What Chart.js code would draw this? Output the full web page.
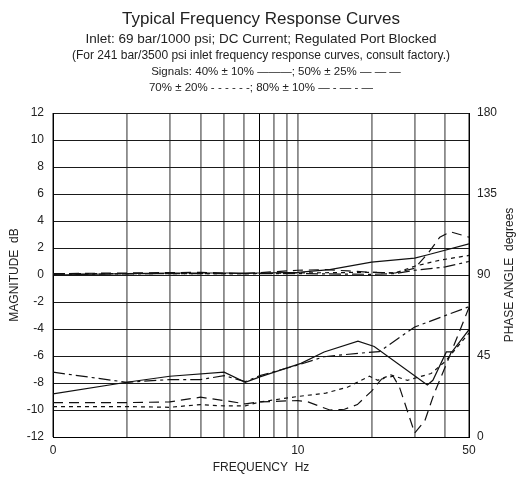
<!DOCTYPE html>
<html>
<head>
<meta charset="utf-8">
<script src="https://cdn.jsdelivr.net/npm/chart.js@4"></script>
<style>
  html, body { margin: 0; padding: 0; background: #fff; }
  canvas { display: block; }
</style>
</head>
<body>
<canvas id="freqChart" width="522" height="477"></canvas>
<script>
// Header text
const headerLines = [
    'Typical Frequency Response Curves',
    'Inlet: 69 bar/1000 psi; DC Current; Regulated Port Blocked',
    '(For 241 bar/3500 psi inlet frequency response curves, consult factory.)',
    'Signals: 40% \u00b1 10% \u2014\u2014\u2014; 50% \u00b1 25% \u2014 \u2014 \u2014',
    '70% \u00b1 20% - - - - - -; 80% \u00b1 10% \u2014 - \u2014 - \u2014'
];
const phaseTitle = 'PHASE ANGLE  degrees';

// Axis ticks
const xGridValues = [1, 2, 3, 4, 5, 6, 7, 8, 9, 10, 20, 30, 40, 50];
const xLabelValues = [1, 10, 50];
const xLabelTexts = ['0', '10', '50'];

// Magnitude curves (dB, left axis)
const mag40Freq = [1, 2, 3, 5, 7, 10, 13.5, 20, 30, 34, 50];
const mag40Db = [0.0, 0.1, 0.15, 0.15, 0.15, 0.2, 0.4, 0.95, 1.25, 1.5, 2.3];

const mag50Freq = [1, 2, 4, 6, 10, 13, 16, 20, 25, 30, 34, 38, 42, 50];
const mag50Db = [0.1, 0.15, 0.2, 0.1, 0.35, 0.4, 0.3, 0.2, 0.15, 0.5, 1.6, 2.8, 3.2, 2.8];

const mag70Freq = [1, 3, 6, 10, 20, 25, 30, 38, 50];
const mag70Db = [0.1, 0.1, 0.1, 0.15, 0.2, 0.15, 0.65, 1.1, 1.45];

const mag80Freq = [1, 3, 6, 10, 20, 25, 30, 40, 50];
const mag80Db = [0.05, 0.1, 0.1, 0.1, 0.05, 0.1, 0.35, 0.6, 1.0];

// Phase curves (degrees, right axis)
const ph40Freq = [1, 2, 3, 5, 6.1, 7, 10.3, 12.8, 17.6, 20.5, 33.8, 35.6, 40.4, 42.6, 50];
const ph40Deg = [24, 30.4, 33.75, 36, 30.4, 33.4, 40.9, 47.25, 53.25, 50.25, 28.9, 31.5, 47.25, 47.25, 59.6];

const ph50Freq = [1, 2, 3, 4, 5, 6.1, 7, 10, 11, 13.5, 15.5, 17.5, 20, 22, 24.5, 26, 30, 33, 36, 40, 45, 50];
const ph50Deg = [19.1, 19.1, 19.5, 22.1, 20.25, 18.4, 19.5, 20.25, 19.5, 15, 15.4, 18, 25.5, 32.25, 33.75, 27.75, 2.25, 9, 24, 39, 56.25, 72];

const ph70Freq = [1, 2, 3, 4, 5, 6.1, 7, 10, 13, 16, 19.6, 21.2, 24, 28, 35, 40, 50];
const ph70Deg = [16.9, 16.9, 16.5, 18, 17.25, 17.25, 19.5, 22.5, 24.4, 27.75, 33.75, 31.5, 34.5, 31.5, 35.25, 42, 57.75];

const ph80Freq = [1, 2, 3, 4, 5, 6.1, 7, 10.3, 12.8, 17.6, 21.5, 30, 50];
const ph80Deg = [36, 30.4, 31.9, 31.9, 34.1, 30.75, 34.1, 40.5, 44.6, 46.5, 47.4, 61.1, 72.4];

const FONT = '"Liberation Sans", Arial, sans-serif';

function pairs(xs, ys) {
    return xs.map((x, i) => ({ x: x, y: ys[i] }));
}

function curve(xs, ys, dash, axis) {
    return {
        data: pairs(xs, ys),
        yAxisID: axis,
        borderColor: '#111',
        borderWidth: 1.2,
        borderDash: dash,
        pointRadius: 0,
        tension: 0,
        fill: false
    };
}

const SOLID = [];
const LONG_DASH = [10, 6];
const SHORT_DASH = [4, 4];
const DASH_DOT = [12, 4, 3, 4];

// Draws the header lines and the right axis title (reads bottom to top)
const headerPlugin = {
    id: 'header',
    afterDraw(chart) {
        const ctx = chart.ctx;
        const sizes = [17, 13.5, 12, 11.5, 11.5];
        const xs = [261, 261, 261, 276, 261];
        const ys = [19, 39, 56, 72, 88];
        ctx.save();
        ctx.fillStyle = '#222';
        ctx.textAlign = 'center';
        ctx.textBaseline = 'middle';
        headerLines.forEach((line, i) => {
            ctx.font = sizes[i] + 'px ' + FONT;
            ctx.fillText(line, xs[i], ys[i]);
        });

        const area = chart.chartArea;
        ctx.translate(510, (area.top + area.bottom) / 2);
        ctx.rotate(-Math.PI / 2);
        ctx.font = '12px ' + FONT;
        ctx.fillText(phaseTitle, 0, 0);
        ctx.restore();
    }
};

const ctx = document.getElementById('freqChart').getContext('2d');
new Chart(ctx, {
    type: 'line',
    data: {
        datasets: [
            curve(mag40Freq, mag40Db, SOLID, 'yMag'),
            curve(mag50Freq, mag50Db, LONG_DASH, 'yMag'),
            curve(mag70Freq, mag70Db, SHORT_DASH, 'yMag'),
            curve(mag80Freq, mag80Db, DASH_DOT, 'yMag'),
            curve(ph40Freq, ph40Deg, SOLID, 'yPhase'),
            curve(ph50Freq, ph50Deg, LONG_DASH, 'yPhase'),
            curve(ph70Freq, ph70Deg, SHORT_DASH, 'yPhase'),
            curve(ph80Freq, ph80Deg, DASH_DOT, 'yPhase')
        ]
    },
    options: {
        responsive: false,
        animation: false,
        layout: { padding: { top: 113, left: 0, right: 0, bottom: 0 } },
        plugins: {
            legend: { display: false },
            title: { display: false },
            tooltip: { enabled: false }
        },
        scales: {
            x: {
                type: 'logarithmic',
                position: 'bottom',
                min: 1,
                max: 50,
                afterBuildTicks: scale => {
                    scale.ticks = xGridValues.map(v => ({ value: v }));
                },
                afterFit: scale => { scale.height = 40; },
                ticks: {
                    autoSkip: false,
                    maxRotation: 0,
                    padding: 6,
                    color: '#222',
                    font: { family: FONT, size: 12 },
                    callback: value => {
                        const i = xLabelValues.indexOf(value);
                        return i >= 0 ? xLabelTexts[i] : '';
                    }
                },
                grid: {
                    drawTicks: false,
                    color: c => (c.tick && c.tick.value === 7) ? '#000' : '#8a8a8a',
                    lineWidth: c => (c.tick && c.tick.value === 7) ? 1 : 1.8
                },
                border: { display: true, color: '#000', width: 1 },
                title: {
                    display: true,
                    text: 'FREQUENCY  Hz',
                    color: '#222',
                    font: { family: FONT, size: 12 },
                    padding: { top: 0, bottom: 2 }
                }
            },
            yMag: {
                type: 'linear',
                position: 'left',
                min: -12,
                max: 12,
                afterFit: scale => { scale.width = 53; },
                ticks: {
                    stepSize: 2,
                    padding: 9,
                    color: '#222',
                    font: { family: FONT, size: 12 }
                },
                grid: {
                    drawTicks: false,
                    color: '#1a1a1a',
                    lineWidth: 1
                },
                border: { display: true, color: '#000', width: 1 },
                title: {
                    display: true,
                    text: 'MAGNITUDE  dB',
                    color: '#222',
                    font: { family: FONT, size: 12 },
                    padding: { top: 7, bottom: 0 }
                }
            },
            yPhase: {
                type: 'linear',
                position: 'right',
                min: 0,
                max: 180,
                afterFit: scale => { scale.width = 53; },
                ticks: {
                    stepSize: 45,
                    padding: 8,
                    color: '#222',
                    font: { family: FONT, size: 12 }
                },
                grid: { display: false, drawTicks: false },
                border: { display: true, color: '#000', width: 1 },
                title: { display: false }
            }
        }
    },
    plugins: [headerPlugin]
});
</script>
</body>
</html>
